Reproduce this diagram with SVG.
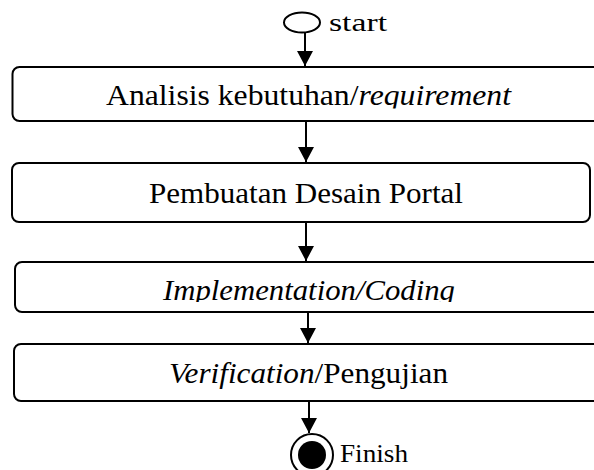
<svg xmlns="http://www.w3.org/2000/svg" width="594" height="470" viewBox="0 0 594 470">
<defs>
<style>
.box{fill:#fff;stroke:#000;stroke-width:2}
.t{font-family:"Liberation Serif","Times New Roman",serif;font-size:29px;fill:#000}
.s{font-family:"Liberation Serif","Times New Roman",serif;font-size:26px;fill:#000}
.i{font-style:italic}
.c{stroke:#000;stroke-width:2;fill:none}
</style>
<marker id="ah" markerUnits="userSpaceOnUse" markerWidth="16" markerHeight="16" viewBox="0 0 16 16" refX="15" refY="8" orient="auto">
<path d="M0,0 L15,8 L0,16 Z" fill="#000"/>
</marker>
<clipPath id="clip1"><rect x="0" y="60" width="594" height="48.5"/></clipPath>
<clipPath id="clip3"><rect x="0" y="262" width="594" height="40"/></clipPath>
</defs>
<rect width="594" height="470" fill="#fff"/>
<g id="start">
<ellipse cx="302" cy="22.5" rx="18" ry="10" fill="#fff" stroke="#000" stroke-width="2"/>
<text class="s" x="329" y="31" textLength="58" lengthAdjust="spacingAndGlyphs">start</text>
</g>
<g id="n1">
<rect class="box" x="12.5" y="67" width="600" height="54" rx="7"/>
<text class="t" x="106" y="105" textLength="405" lengthAdjust="spacingAndGlyphs" clip-path="url(#clip1)">Analisis kebutuhan/<tspan class="i">requirement</tspan></text>
</g>
<g id="n2">
<rect class="box" x="12" y="163" width="578" height="59" rx="7"/>
<text class="t" x="149" y="203" textLength="314" lengthAdjust="spacingAndGlyphs">Pembuatan Desain Portal</text>
</g>
<g id="n3">
<rect class="box" x="15" y="262" width="600" height="50" rx="7"/>
<text class="t i" x="163" y="300" textLength="292" lengthAdjust="spacingAndGlyphs" clip-path="url(#clip3)">Implementation/Coding</text>
</g>
<g id="n4">
<rect class="box" x="14" y="344" width="600" height="57" rx="7"/>
<text class="t" x="169" y="383" textLength="279" lengthAdjust="spacingAndGlyphs"><tspan class="i">Verification</tspan>/Pengujian</text>
</g>
<g id="finish">
<circle cx="312" cy="455" r="21" fill="#fff" stroke="#000" stroke-width="2"/>
<circle cx="312" cy="455" r="14" fill="#000"/>
<text class="s" x="340" y="462" textLength="68" lengthAdjust="spacingAndGlyphs">Finish</text>
</g>
<g id="connectors">
<path class="c" d="M305,33 V66" marker-end="url(#ah)"/>
<path class="c" d="M306,121 V162" marker-end="url(#ah)"/>
<path class="c" d="M306,222 V261" marker-end="url(#ah)"/>
<path class="c" d="M308,312 V343" marker-end="url(#ah)"/>
<path class="c" d="M309,401 V433" marker-end="url(#ah)"/>
</g>
</svg>
